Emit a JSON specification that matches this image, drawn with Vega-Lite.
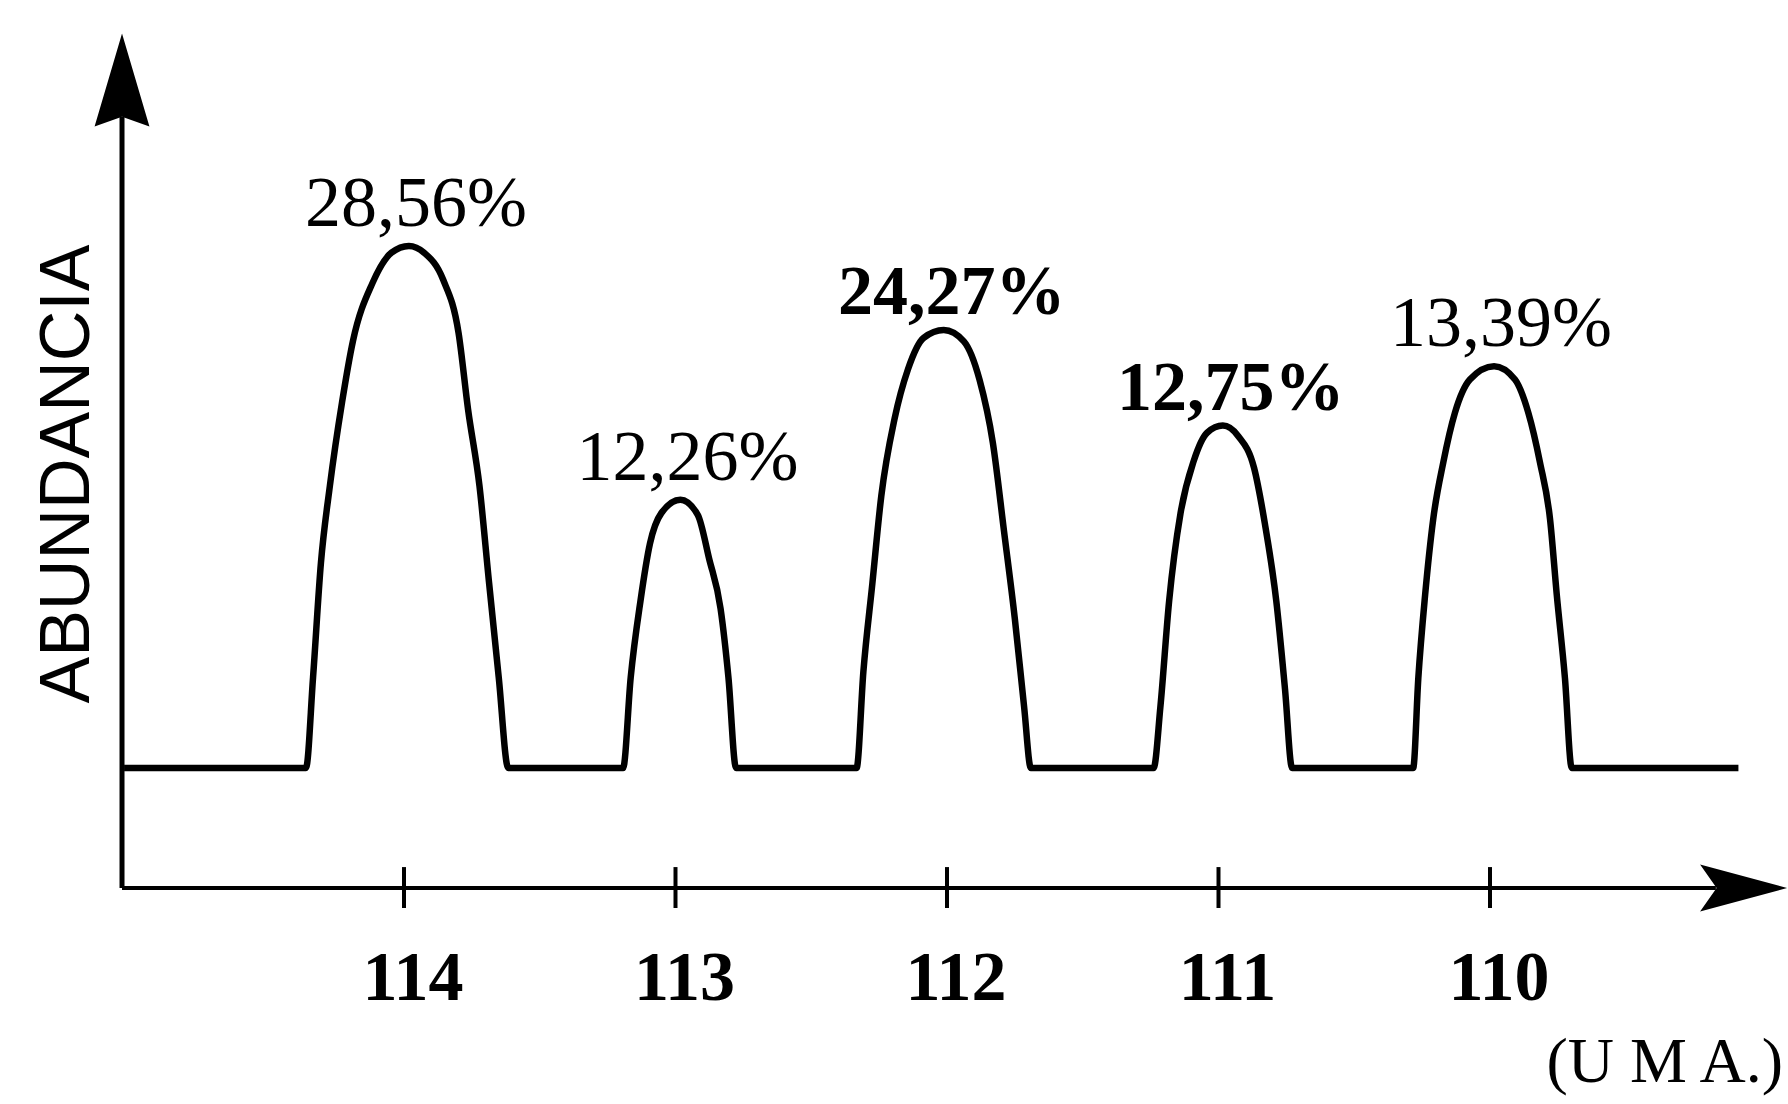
{
  "$schema": "https://vega.github.io/schema/vega-lite/v6.json",
  "width": 1788,
  "height": 1104,
  "autosize": {"type": "none"},
  "padding": 0,
  "background": "white",
  "config": {"view": {"stroke": null}},
  "datasets": {
    "espectro": [
      {"uma": 115.031, "altura": 0},
      {"uma": 114.361, "altura": 0},
      {"uma": 114.335, "altura": 4.95},
      {"uma": 114.306, "altura": 11.21},
      {"uma": 114.273, "altura": 15.43},
      {"uma": 114.228, "altura": 20.02},
      {"uma": 114.188, "altura": 23.36},
      {"uma": 114.116, "altura": 26.53},
      {"uma": 114.046, "altura": 28.19},
      {"uma": 113.982, "altura": 28.56},
      {"uma": 113.926, "altura": 28.19},
      {"uma": 113.856, "altura": 26.72},
      {"uma": 113.799, "altura": 23.8},
      {"uma": 113.764, "altura": 19.61},
      {"uma": 113.722, "altura": 15.43},
      {"uma": 113.687, "altura": 10.18},
      {"uma": 113.651, "altura": 4.95},
      {"uma": 113.616, "altura": 0},
      {"uma": 113.193, "altura": 0},
      {"uma": 113.165, "altura": 4.95},
      {"uma": 113.129, "altura": 9.14},
      {"uma": 113.094, "altura": 12.28},
      {"uma": 113.052, "altura": 13.95},
      {"uma": 112.982, "altura": 14.68},
      {"uma": 112.918, "altura": 13.85},
      {"uma": 112.876, "altura": 11.44},
      {"uma": 112.834, "altura": 8.72},
      {"uma": 112.805, "altura": 4.95},
      {"uma": 112.777, "altura": 0},
      {"uma": 112.333, "altura": 0},
      {"uma": 112.308, "altura": 5.27},
      {"uma": 112.275, "altura": 10.08},
      {"uma": 112.242, "altura": 14.88},
      {"uma": 112.193, "altura": 19.11},
      {"uma": 112.144, "altura": 21.8},
      {"uma": 112.086, "altura": 23.53},
      {"uma": 112.012, "altura": 23.96},
      {"uma": 111.938, "altura": 23.34},
      {"uma": 111.88, "altura": 21.23},
      {"uma": 111.831, "altura": 17.78},
      {"uma": 111.79, "altura": 12.96},
      {"uma": 111.75, "altura": 8.15},
      {"uma": 111.716, "altura": 3.35},
      {"uma": 111.691, "altura": 0},
      {"uma": 111.239, "altura": 0},
      {"uma": 111.214, "altura": 3.35},
      {"uma": 111.182, "altura": 9.11},
      {"uma": 111.14, "altura": 13.92},
      {"uma": 111.091, "altura": 16.81},
      {"uma": 111.042, "altura": 18.34},
      {"uma": 110.984, "altura": 18.73},
      {"uma": 110.927, "altura": 18.15},
      {"uma": 110.869, "altura": 16.42},
      {"uma": 110.829, "altura": 13.35},
      {"uma": 110.787, "altura": 9.11},
      {"uma": 110.755, "altura": 4.31},
      {"uma": 110.729, "altura": 0},
      {"uma": 110.283, "altura": 0},
      {"uma": 110.264, "altura": 4.92},
      {"uma": 110.239, "altura": 9.46},
      {"uma": 110.209, "altura": 13.63},
      {"uma": 110.172, "altura": 16.72},
      {"uma": 110.129, "altura": 19.44},
      {"uma": 110.074, "altura": 21.25},
      {"uma": 109.985, "altura": 21.98},
      {"uma": 109.908, "altura": 21.25},
      {"uma": 109.859, "altura": 19.44},
      {"uma": 109.816, "altura": 16.72},
      {"uma": 109.779, "altura": 13.63},
      {"uma": 109.754, "altura": 9.46},
      {"uma": 109.724, "altura": 4.92},
      {"uma": 109.699, "altura": 0},
      {"uma": 109.085, "altura": 0}
    ],
    "picos": [
      {"uma": 113.982, "altura": 28.56, "texto": "28,56%"},
      {"uma": 112.982, "altura": 14.68, "texto": "12,26%"},
      {"uma": 112.012, "altura": 23.96, "texto": "24,27%"},
      {"uma": 110.984, "altura": 18.73, "texto": "12,75%"},
      {"uma": 109.985, "altura": 21.98, "texto": "13,39%"}
    ],
    "marcas": [
      {"uma": 114}, {"uma": 113}, {"uma": 112}, {"uma": 111}, {"uma": 110}
    ]
  },
  "layer": [
    {
      "data": {"name": "espectro"},
      "mark": {"type": "line", "interpolate": "monotone", "strokeWidth": 6.5, "color": "black"},
      "encoding": {
        "x": {"field": "uma", "type": "quantitative", "scale": {"domain": [108.9024, 115.488], "reverse": true, "zero": false, "nice": false}, "axis": null},
        "y": {"field": "altura", "type": "quantitative", "scale": {"domain": [-18.381, 42.013], "zero": false, "nice": false}, "axis": null},
        "order": {"field": "uma", "sort": "descending"}
      }
    },
    {
      "data": {"values": [{}]},
      "mark": {"type": "rule", "strokeWidth": 5, "color": "black"},
      "encoding": {
        "x": {"datum": 115.0386, "type": "quantitative", "scale": {"domain": [108.9024, 115.488], "reverse": true, "zero": false, "nice": false}, "axis": null},
        "y": {"datum": -6.565, "type": "quantitative", "scale": {"domain": [-18.381, 42.013], "zero": false, "nice": false}, "axis": null},
        "y2": {"datum": 35.61}
      }
    },
    {
      "data": {"values": [{}]},
      "mark": {"type": "rule", "strokeWidth": 4, "color": "black"},
      "encoding": {
        "x": {"datum": 115.0386, "type": "quantitative", "scale": {"domain": [108.9024, 115.488], "reverse": true, "zero": false, "nice": false}, "axis": null},
        "x2": {"datum": 109.168},
        "y": {"datum": -6.565, "type": "quantitative", "scale": {"domain": [-18.381, 42.013], "zero": false, "nice": false}, "axis": null}
      }
    },
    {
      "data": {"values": [{}]},
      "mark": {"type": "point", "filled": true, "color": "black", "opacity": 1, "strokeWidth": 0, "size": 8649, "shape": "M 0 -1 L 0.59 1 L 0 0.79 L -0.59 1 Z"},
      "encoding": {
        "x": {"datum": 115.0386, "type": "quantitative", "scale": {"domain": [108.9024, 115.488], "reverse": true, "zero": false, "nice": false}, "axis": null},
        "y": {"datum": 37.64, "type": "quantitative", "scale": {"domain": [-18.381, 42.013], "zero": false, "nice": false}, "axis": null}
      }
    },
    {
      "data": {"values": [{}]},
      "mark": {"type": "point", "filled": true, "color": "black", "opacity": 1, "strokeWidth": 0, "size": 7569, "shape": "M 1 0 L -1 -0.54 L -0.62 0 L -1 0.54 Z"},
      "encoding": {
        "x": {"datum": 109.066, "type": "quantitative", "scale": {"domain": [108.9024, 115.488], "reverse": true, "zero": false, "nice": false}, "axis": null},
        "y": {"datum": -6.565, "type": "quantitative", "scale": {"domain": [-18.381, 42.013], "zero": false, "nice": false}, "axis": null}
      }
    },
    {
      "data": {"name": "marcas"},
      "mark": {"type": "rule", "strokeWidth": 4, "color": "black"},
      "encoding": {
        "x": {"field": "uma", "type": "quantitative", "scale": {"domain": [108.9024, 115.488], "reverse": true, "zero": false, "nice": false}, "axis": null},
        "y": {"datum": -5.42, "type": "quantitative", "scale": {"domain": [-18.381, 42.013], "zero": false, "nice": false}, "axis": null},
        "y2": {"datum": -7.66}
      }
    },
    {
      "data": {"name": "marcas"},
      "mark": {"type": "text", "font": "Liberation Serif", "fontWeight": "bold", "fontSize": 70, "color": "black", "align": "center", "baseline": "alphabetic", "dx": 9},
      "encoding": {
        "x": {"field": "uma", "type": "quantitative", "scale": {"domain": [108.9024, 115.488], "reverse": true, "zero": false, "nice": false}, "axis": null},
        "y": {"datum": -12.69, "type": "quantitative", "scale": {"domain": [-18.381, 42.013], "zero": false, "nice": false}, "axis": null},
        "text": {"field": "uma", "type": "nominal"}
      }
    },
    {
      "data": {"name": "picos"},
      "transform": [{"filter": {"not": {"field": "texto", "oneOf": ["24,27%", "12,75%"]}}}],
      "mark": {"type": "text", "font": "Liberation Serif", "fontSize": 72, "color": "black", "align": "center", "baseline": "alphabetic", "dx": 7, "dy": -20},
      "encoding": {
        "x": {"field": "uma", "type": "quantitative", "scale": {"domain": [108.9024, 115.488], "reverse": true, "zero": false, "nice": false}, "axis": null},
        "y": {"field": "altura", "type": "quantitative", "scale": {"domain": [-18.381, 42.013], "zero": false, "nice": false}, "axis": null},
        "text": {"field": "texto", "type": "nominal"}
      }
    },
    {
      "data": {"name": "picos"},
      "transform": [{"filter": {"field": "texto", "oneOf": ["24,27%", "12,75%"]}}],
      "mark": {"type": "text", "font": "Liberation Serif", "fontWeight": "bold", "fontSize": 70, "color": "black", "align": "center", "baseline": "alphabetic", "dx": 8, "dy": -16},
      "encoding": {
        "x": {"field": "uma", "type": "quantitative", "scale": {"domain": [108.9024, 115.488], "reverse": true, "zero": false, "nice": false}, "axis": null},
        "y": {"field": "altura", "type": "quantitative", "scale": {"domain": [-18.381, 42.013], "zero": false, "nice": false}, "axis": null},
        "text": {"field": "texto", "type": "nominal"}
      }
    },
    {
      "data": {"values": [{}]},
      "mark": {"type": "text", "text": "ABUNDANCIA", "font": "Liberation Sans", "fontSize": 70, "color": "black", "align": "center", "baseline": "middle", "angle": 270},
      "encoding": {
        "x": {"datum": 115.2375, "type": "quantitative", "scale": {"domain": [108.9024, 115.488], "reverse": true, "zero": false, "nice": false}, "axis": null},
        "y": {"datum": 16.08, "type": "quantitative", "scale": {"domain": [-18.381, 42.013], "zero": false, "nice": false}, "axis": null}
      }
    },
    {
      "data": {"values": [{}]},
      "mark": {"type": "text", "text": "(U M A.)", "font": "Liberation Serif", "fontSize": 64, "color": "black", "align": "right", "baseline": "alphabetic"},
      "encoding": {
        "x": {"datum": 108.921, "type": "quantitative", "scale": {"domain": [108.9024, 115.488], "reverse": true, "zero": false, "nice": false}, "axis": null},
        "y": {"datum": -17.2, "type": "quantitative", "scale": {"domain": [-18.381, 42.013], "zero": false, "nice": false}, "axis": null}
      }
    }
  ]
}
